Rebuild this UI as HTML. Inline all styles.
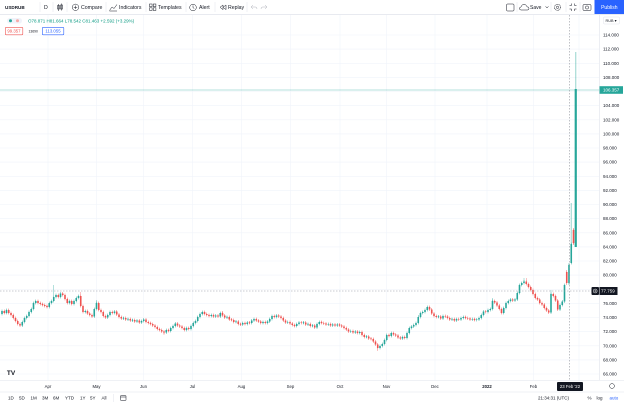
<!DOCTYPE html>
<html><head><meta charset="utf-8">
<style>
html,body{margin:0;padding:0;background:#fff;width:624px;height:406px;overflow:hidden;}
svg{display:block;font-family:"Liberation Sans",sans-serif;}
</style></head><body>
<svg width="624" height="406" viewBox="0 0 624 406" xmlns="http://www.w3.org/2000/svg">
<defs>
<marker id="wg" markerUnits="userSpaceOnUse" markerWidth="2" markerHeight="4" refX="1" refY="2" overflow="visible"><line x1="1" y1="0.6" x2="1" y2="3.4" stroke="#26a69a" stroke-width="0.5"/></marker>
<marker id="wr" markerUnits="userSpaceOnUse" markerWidth="2" markerHeight="4" refX="1" refY="2" overflow="visible"><line x1="1" y1="0.6" x2="1" y2="3.4" stroke="#ef5350" stroke-width="0.5"/></marker>
</defs>
<rect width="624" height="406" fill="#fff"/>
<!-- grid -->
<path d="M0 35H599M0 49.1H599M0 63.3H599M0 77.4H599M0 91.5H599M0 105.6H599M0 119.8H599M0 133.9H599M0 148H599M0 162.1H599M0 176.3H599M0 190.4H599M0 204.5H599M0 218.6H599M0 232.8H599M0 246.9H599M0 261H599M0 275.1H599M0 289.3H599M0 303.4H599M0 317.5H599M0 331.6H599M0 345.8H599M0 359.9H599M0 374H599" stroke="#f0f3fa" stroke-width="0.6" fill="none"/>
<path d="M48 15V380M96.5 15V380M143.5 15V380M192.5 15V380M241.5 15V380M290.5 15V380M340 15V380M386.5 15V380M435 15V380M487 15V380M533.5 15V380M579 15V380" stroke="#f0f3fa" stroke-width="0.6" fill="none"/>
<line x1="0" y1="90" x2="599" y2="90" stroke="#26a69a" stroke-opacity="0.45" stroke-width="0.7"/>

<!-- candles: green -->
<path fill="none" stroke="#26a69a" stroke-width="1.6" marker-start="url(#wg)" marker-mid="url(#wg)" marker-end="url(#wg)" d="M2 314V311M6.5 313V310M22.25 325.5V322M24.5 322V318M26.75 318V316M29 316V312M31.25 312V309M33.5 309V303M35.75 303V301M49.25 307V303M51.5 303V301M53.75 301V297M56 297V295M60.5 297V293.5M69.5 303V301M74 304V301M76.25 301V298M78.5 298V296M85.25 312V311M94.25 316.5V309M96.5 309V303M107.75 317.5V315M110 315V312M114.5 313V311.5M123.5 318.5V318M128 319.5V319M132.5 320.5V320M137 321.5V320.5M141.5 322.5V321M143.75 321V319.5M166.25 332.5V330M170.75 331V328M173 328V326M175.25 326V323.5M186.5 330V328M191 329V326M193.25 326V323M195.5 323V321M197.75 321V317M200 317V314M202.25 314V312M211.25 316V315M215.75 316.5V315.5M220.25 316.5V313M227 317.5V317M236 322V321.5M242.75 324.5V323M247.25 324V322.5M251.75 323V320.5M254 320.5V319M263 323V322M267.5 323V321.5M269.75 321.5V319M272 319V316M276.5 317V315.5M287.75 322.5V322M296.75 326V324M299 324V322.5M303.5 323V322.5M308 324.5V324M312.5 326V325.5M317 327.5V324M319.25 324V322M328.25 324.5V324M332.75 325.5V324.5M337.25 325.5V324.5M350.75 331.5V331M355.25 332.5V331.5M359.75 333V332M366.5 337V336.5M380 348V346M382.25 346V344M384.5 344V340M386.75 340V335M391.25 336V333M402.5 338.5V337M407 338V333M409.25 333V328M411.5 328V326.5M413.75 326.5V325M416 325V323M418.25 323V317M420.5 317V313M422.75 313V312M425 312V310M427.25 310V307M438.5 317V316.5M443 318.5V316M452 319.5V319M456.5 320.5V319M461 319.5V318M463.25 318V317M472.25 319.5V319M476.75 320V319.5M479 319.5V318M481.25 318V315M483.5 315V311.5M488 312V310M490.25 310V309M492.5 309V301M503.75 313V308M506 308V303M508.25 303V301M510.5 301V299.5M515 300.5V299.5M517.25 299.5V293M519.5 293V285M521.75 285V283M524 283V281.5M551 312.5V294M560 309.5V305M562.25 305V301.5M564.5 301.5V285M569 283V265M571.25 263V244"/>
<!-- candles: red -->
<path fill="none" stroke="#ef5350" stroke-width="1.6" marker-start="url(#wr)" marker-mid="url(#wr)" marker-end="url(#wr)" d="M4.25 311V313M8.75 310V313M11 313V315M13.25 315V318M15.5 318V321M17.75 321V324M20 324V325.5M38 301V303M40.25 303V304M42.5 304V305M44.75 305V306M47 306V307M58.25 295V297M62.75 293.5V295M65 295V299M67.25 299V303M71.75 301V304M80.75 296V306M83 306V312M87.5 311V313.5M89.75 313.5V315M92 315V316.5M98.75 303V310M101 310V312M103.25 312V316M105.5 316V317.5M112.25 312V313M116.75 311.5V314.5M119 314.5V317M121.25 317V318.5M125.75 318V319.5M130.25 319V320.5M134.75 320V321.5M139.25 320.5V322.5M146 319.5V322M148.25 322V323M150.5 323V324M152.75 324V325.5M155 325.5V327M157.25 327V329M159.5 329V330M161.75 330V331.5M164 331.5V332.5M168.5 330V331M177.5 323.5V325.5M179.75 325.5V326.5M182 326.5V328M184.25 328V330M188.75 328V329M204.5 312V314M206.75 314V315M209 315V316M213.5 315V316.5M218 315.5V316.5M222.5 313V315.5M224.75 315.5V317.5M229.25 317V319.5M231.5 319.5V320M233.75 320V322M238.25 321.5V324M240.5 324V324.5M245 323V324M249.5 322.5V323M256.25 319V320.5M258.5 320.5V321.5M260.75 321.5V323M265.25 322V323M274.25 316V317M278.75 315.5V316.5M281 316.5V318M283.25 318V320.5M285.5 320.5V322.5M290 322V323.5M292.25 323.5V325M294.5 325V326M301.25 322.5V323M305.75 322.5V324.5M310.25 324V326M314.75 325.5V327.5M321.5 322V323M323.75 323V323.5M326 323.5V324.5M330.5 324V325.5M335 324.5V325.5M339.5 324.5V325.5M341.75 325.5V326.5M344 326.5V328M346.25 328V329.5M348.5 329.5V331.5M353 331V332.5M357.5 331.5V333M362 332V335M364.25 335V337M368.75 336.5V338.5M371 338.5V339M373.25 339V341.5M375.5 341.5V344.5M377.75 344.5V348M389 335V336M393.5 333V334.5M395.75 334.5V335.5M398 335.5V337.5M400.25 337.5V338.5M404.75 337V338M429.5 307V309.5M431.75 309.5V313.5M434 313.5V316M436.25 316V317M440.75 316.5V318.5M445.25 316V316.5M447.5 316.5V318M449.75 318V319.5M454.25 319V320.5M458.75 319V319.5M465.5 317V318M467.75 318V318.5M470 318.5V319.5M474.5 319V320M485.75 311.5V312M494.75 301V302.5M497 302.5V305.5M499.25 305.5V309M501.5 309V313M512.75 299.5V300.5M526.25 281.5V284M528.5 284V287M530.75 287V290M533 290V294M535.25 294V298M537.5 298V299.5M539.75 299.5V303M542 303V304.5M544.25 304.5V308M546.5 308V310.5M548.75 310.5V312.5M553.25 294V296M555.5 296V300.5M557.75 300.5V309.5M566.75 272V283M573.5 230V243"/>
<!-- special wicks -->
<path fill="none" stroke="#26a69a" stroke-width="0.5" stroke-opacity="0.7" d="M53.75 285V297M96.5 300V303M524 278V281.5M551 290V294M569 263V285M492.5 298V301M418.25 315V317"/>
<path fill="none" stroke="#ef5350" stroke-width="0.5" stroke-opacity="0.7" d="M80.75 292V296M164 332.5V335M377.75 348V351M566.75 270V285M573.5 228V245M222.5 311V313M526.25 278V281.5"/>
<line x1="571.25" y1="203" x2="571.25" y2="244" stroke="#26a69a" stroke-opacity="0.45" stroke-width="1.1"/>
<line x1="575.75" y1="52" x2="575.75" y2="89" stroke="#26a69a" stroke-opacity="0.45" stroke-width="1.1"/>
<line x1="575.75" y1="247" x2="575.75" y2="89" stroke="#26a69a" stroke-width="2.2"/>

<!-- crosshair -->
<g stroke="#9598a1" stroke-width="0.6" stroke-dasharray="1.5 1.5">
  <line x1="0" y1="291" x2="599" y2="291"/>
  <line x1="569.5" y1="15" x2="569.5" y2="380"/>
</g>
<!-- borders -->
<line x1="0" y1="14.5" x2="624" y2="14.5" stroke="#e0e3eb" stroke-width="0.7"/>
<line x1="599.5" y1="15" x2="599.5" y2="380" stroke="#e0e3eb" stroke-width="0.6"/>
<line x1="0" y1="380.5" x2="624" y2="380.5" stroke="#e0e3eb" stroke-width="0.6"/>
<line x1="0" y1="392" x2="624" y2="392" stroke="#e0e3eb" stroke-width="0.6"/>

<!-- price labels -->
<g font-size="4.5" fill="#131722">
<text x="603" y="36.6">114.000</text>
<text x="603" y="50.7">112.000</text>
<text x="603" y="64.9">110.000</text>
<text x="603" y="79">108.000</text>
<text x="603" y="107.2">104.000</text>
<text x="603" y="121.4">102.000</text>
<text x="603" y="135.5">100.000</text>
<text x="603" y="149.6">98.000</text>
<text x="603" y="163.7">96.000</text>
<text x="603" y="177.9">94.000</text>
<text x="603" y="192">92.000</text>
<text x="603" y="206.1">90.000</text>
<text x="603" y="220.2">88.000</text>
<text x="603" y="234.4">86.000</text>
<text x="603" y="248.5">84.000</text>
<text x="603" y="262.6">82.000</text>
<text x="603" y="276.7">80.000</text>
<text x="603" y="305">76.000</text>
<text x="603" y="319.1">74.000</text>
<text x="603" y="333.2">72.000</text>
<text x="603" y="347.4">70.000</text>
<text x="603" y="361.5">68.000</text>
<text x="603" y="375.6">66.000</text>
</g>

<!-- Top toolbar -->
<g font-size="5.2" fill="#131722">
  <text x="5" y="9" font-weight="bold" font-size="4.6">USDRUB</text>
  <line x1="40" y1="2" x2="40" y2="12" stroke="#e0e3eb" stroke-width="0.5"/>
  <text x="44" y="9">D</text>
  <line x1="53" y1="2" x2="53" y2="12" stroke="#e0e3eb" stroke-width="0.5"/>
  <g stroke="#131722" stroke-width="0.5" fill="none">
    <line x1="58.5" y1="4" x2="58.5" y2="11"/><rect x="57.5" y="5.5" width="2" height="3.5"/>
    <line x1="61.5" y1="3.5" x2="61.5" y2="10.5"/><rect x="60.5" y="5" width="2" height="4"/>
  </g>
  <line x1="67" y1="2" x2="67" y2="12" stroke="#e0e3eb" stroke-width="0.5"/>
  <circle cx="75.5" cy="7.3" r="3.2" fill="none" stroke="#131722" stroke-width="0.5"/>
  <line x1="73.8" y1="7.3" x2="77.2" y2="7.3" stroke="#131722" stroke-width="0.5"/>
  <line x1="75.5" y1="5.6" x2="75.5" y2="9" stroke="#131722" stroke-width="0.5"/>
  <text x="81" y="9">Compare</text>
  <line x1="106" y1="2" x2="106" y2="12" stroke="#e0e3eb" stroke-width="0.5"/>
  <path d="M109.5 10.5 L112 7 L114 8.5 L117 4.5 M109.5 11 H117" stroke="#131722" stroke-width="0.5" fill="none"/>
  <text x="119" y="9">Indicators</text>
  <line x1="146" y1="2" x2="146" y2="12" stroke="#e0e3eb" stroke-width="0.5"/>
  <g fill="none" stroke="#131722" stroke-width="0.5">
    <rect x="149.5" y="4" width="2.6" height="2.6"/><rect x="153.3" y="4" width="2.6" height="2.6"/>
    <rect x="149.5" y="7.8" width="2.6" height="2.6"/><rect x="153.3" y="7.8" width="2.6" height="2.6"/>
  </g>
  <text x="158" y="9">Templates</text>
  <line x1="186" y1="2" x2="186" y2="12" stroke="#e0e3eb" stroke-width="0.5"/>
  <circle cx="193" cy="7.5" r="3.3" fill="none" stroke="#131722" stroke-width="0.5"/>
  <path d="M193 5.5 V7.6 L194.3 8.6" stroke="#131722" stroke-width="0.5" fill="none"/>
  <text x="199" y="9">Alert</text>
  <line x1="215" y1="2" x2="215" y2="12" stroke="#e0e3eb" stroke-width="0.5"/>
  <path d="M223 5 L220 7.3 L223 9.6 Z M226 5 L223 7.3 L226 9.6 Z" stroke="#131722" stroke-width="0.5" fill="none"/>
  <text x="228" y="9">Replay</text>
  <line x1="247" y1="2" x2="247" y2="12" stroke="#e0e3eb" stroke-width="0.5"/>
  <path d="M251 7 L253 5 M251 7 L253 9 M251 7 H255.5 Q257 7 257 9" stroke="#b2b5be" stroke-width="0.5" fill="none"/>
  <path d="M267 7 L265 5 M267 7 L265 9 M267 7 H262.5 Q261 7 261 9" stroke="#b2b5be" stroke-width="0.5" fill="none"/>

  <rect x="506.5" y="4" width="7.5" height="7" rx="1" fill="none" stroke="#131722" stroke-width="0.5"/>
  <line x1="517" y1="2" x2="517" y2="12" stroke="#e0e3eb" stroke-width="0.5"/>
  <path d="M521 10 Q519.5 10 519.5 8.5 Q519.5 7 521 7 Q521.5 4.5 524 4.5 Q526.5 4.5 527 6.8 Q529 6.8 529 8.4 Q529 10 527.5 10 Z" fill="none" stroke="#131722" stroke-width="0.5"/>
  <text x="530" y="9" font-size="5">Save</text>
  <path d="M545.5 6.3 L547 8 L548.5 6.3" fill="none" stroke="#131722" stroke-width="0.5"/>
  <line x1="551" y1="2" x2="551" y2="12" stroke="#e0e3eb" stroke-width="0.5"/>
  <circle cx="557.5" cy="7.3" r="3" fill="none" stroke="#131722" stroke-width="0.6" stroke-dasharray="1 0.5"/>
  <circle cx="557.5" cy="7.3" r="1.2" fill="none" stroke="#131722" stroke-width="0.5"/>
  <line x1="566" y1="2" x2="566" y2="12" stroke="#e0e3eb" stroke-width="0.5"/>
  <path d="M569.5 5.5 H571.5 V3.5 M574.5 3.5 V5.5 H576.5 M569.5 9 H571.5 V11 M574.5 11 V9 H576.5" fill="none" stroke="#131722" stroke-width="0.5"/>
  <line x1="580" y1="2" x2="580" y2="12" stroke="#e0e3eb" stroke-width="0.5"/>
  <rect x="583" y="4.5" width="8" height="6" rx="1" fill="none" stroke="#131722" stroke-width="0.5"/>
  <circle cx="587" cy="7.5" r="1.6" fill="none" stroke="#131722" stroke-width="0.5"/>
  <rect x="594.5" y="0" width="29.5" height="14" fill="#2962ff"/>
  <text x="609.3" y="9" fill="#fff" font-size="5" text-anchor="middle">Publish</text>
</g>

<!-- legend -->
<rect x="7" y="18" width="15" height="5.5" rx="2.75" fill="#f0f3fa"/>
<circle cx="10.5" cy="20.75" r="1.5" fill="#26a69a"/>
<circle cx="17.5" cy="20.75" r="1.5" fill="#f7a9a7"/>
<text x="28" y="22.6" font-size="4.5" fill="#089981">O78.871 H81.664 L78.542 C81.463 +2.592 (+3.29%)</text>
<rect x="5.3" y="27.3" width="17.5" height="7.5" rx="1" fill="#fff" stroke="#ef5350" stroke-width="0.6"/>
<text x="14" y="32.6" font-size="4.3" fill="#ef5350" text-anchor="middle">99.357</text>
<text x="28.5" y="32.6" font-size="3.4" fill="#131722">13690</text>
<rect x="42.3" y="27.3" width="21.5" height="7.5" rx="1" fill="#fff" stroke="#2962ff" stroke-width="0.6"/>
<text x="53" y="32.6" font-size="4.3" fill="#2962ff" text-anchor="middle">113.055</text>

<!-- RUB box -->
<rect x="603.5" y="17" width="16" height="7" rx="1" fill="#fff" stroke="#e0e3eb" stroke-width="0.5"/>
<text x="605.5" y="22" font-size="3.8" fill="#131722">RUB ▾</text>

<!-- price tags -->
<rect x="599.5" y="86.2" width="23.5" height="7.6" fill="#26a69a"/>
<text x="603" y="91.6" font-size="4.5" fill="#fff">106.357</text>
<rect x="591.5" y="287" width="7.5" height="8" rx="1" fill="#131722"/>
<circle cx="595.2" cy="291" r="2" fill="none" stroke="#fff" stroke-width="0.5"/>
<line x1="594" y1="291" x2="596.4" y2="291" stroke="#fff" stroke-width="0.4"/>
<line x1="595.2" y1="289.8" x2="595.2" y2="292.2" stroke="#fff" stroke-width="0.4"/>
<rect x="599.5" y="287" width="18" height="8" fill="#131722"/>
<text x="601" y="292.6" font-size="4.5" fill="#fff">77.759</text>

<!-- time axis -->
<g font-size="4.3" fill="#131722" text-anchor="middle">
  <text x="48" y="388">Apr</text>
  <text x="96.5" y="388">May</text>
  <text x="143.5" y="388">Jun</text>
  <text x="192.5" y="388">Jul</text>
  <text x="241.5" y="388">Aug</text>
  <text x="290.5" y="388">Sep</text>
  <text x="340" y="388">Oct</text>
  <text x="386.5" y="388">Nov</text>
  <text x="435" y="388">Dec</text>
  <text x="487" y="388" font-weight="bold">2022</text>
  <text x="533.5" y="388">Feb</text>
</g>
<rect x="557" y="382" width="26" height="9" rx="1" fill="#131722"/>
<text x="570" y="388.2" font-size="4.3" fill="#fff" text-anchor="middle">23 Feb '22</text>
<circle cx="612" cy="386" r="2.4" fill="none" stroke="#131722" stroke-width="0.5"/>

<!-- TV logo -->
<circle cx="11" cy="372.5" r="5.5" fill="#fff"/>
<text x="11" y="375" font-size="6.5" font-weight="bold" fill="#131722" text-anchor="middle">TV</text>

<!-- bottom toolbar -->
<g font-size="4.5" fill="#131722">
  <text x="8" y="399.6">1D</text>
  <text x="19" y="399.6">5D</text>
  <text x="30.5" y="399.6">1M</text>
  <text x="42" y="399.6">3M</text>
  <text x="53" y="399.6">6M</text>
  <text x="65" y="399.6">YTD</text>
  <text x="80" y="399.6">1Y</text>
  <text x="90" y="399.6">5Y</text>
  <text x="101.5" y="399.6">All</text>
  <line x1="113.5" y1="394" x2="113.5" y2="402" stroke="#e0e3eb" stroke-width="0.5"/>
  <rect x="120.5" y="395.5" width="5.5" height="5" rx="0.6" fill="none" stroke="#131722" stroke-width="0.5"/>
  <line x1="120.5" y1="397" x2="126" y2="397" stroke="#131722" stroke-width="0.5"/>
  <text x="538" y="399.6">21:34:31 (UTC)</text>
  <text x="587.5" y="399.6">%</text>
  <text x="596.5" y="399.6">log</text>
  <text x="609.5" y="399.6" fill="#2962ff">auto</text>
</g>
</svg>
</body></html>
